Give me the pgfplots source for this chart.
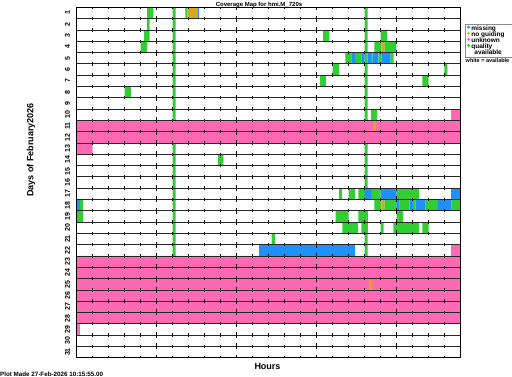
\documentclass[border=0pt]{standalone}
\usepackage{pgfplots}
\pgfplotsset{compat=1.18}
\usepackage{fontspec}
\setmainfont{Liberation Sans}
\definecolor{miss}{RGB}{30,144,255}
\definecolor{noguide}{RGB}{218,165,32}
\definecolor{unknown}{RGB}{255,105,180}
\definecolor{qual}{RGB}{50,205,50}
\pgfplotsset{dotleg/.style={legend image code/.code={\fill (0pt,1.7pt) circle (1.6pt);}}}
\begin{document}
\begin{tikzpicture}[x=1pt,y=1pt]
\useasboundingbox (0,0) rectangle (512,377);
\begin{axis}[
  at={(76.7pt,19.3pt)}, anchor=south west,
  scale only axis, width=384pt, height=350.4pt,
  xmin=0, xmax=24, ymin=0, ymax=31, y dir=reverse,
  xtick=\empty,
  ytick={0.5,1.5,...,30.5},
  yticklabels={1,2,3,4,5,6,7,8,9,10,11,12,13,14,15,16,17,18,19,20,21,22,23,24,25,26,27,28,29,30,31},
  ytick pos=left, major tick length=0pt,
  yticklabel style={xshift=-6.6pt, rotate=90, anchor=south, inner sep=0pt, font=\fontsize{7}{8}\selectfont\bfseries},
  axis line style={black, line width=0.7pt},
  axis on top,
  unbounded coords=jump,
  clip=false,
  legend style={at={(1.0112,0.9532)}, anchor=north west, draw=black!45, line width=0.4pt,
    font=\fontsize{6.5}{7}\selectfont\bfseries, inner xsep=1.8pt, inner ysep=1.7pt,
    row sep=-0.2pt, column sep=1.2pt,
    nodes={inner sep=0pt, text height=4.6pt, text depth=1.3pt}},
  legend cell align=left,
]
% unknown (pink)
\addplot[fill=unknown, draw=none, forget plot] coordinates {
(23.40,9)(24,9)(24,10)(23.40,10)(nan,nan)
(0,10)(24,10)(24,12)(0,12)(nan,nan)
(0,12)(1.00,12)(1.00,13)(0,13)(nan,nan)
(23.40,21)(24,21)(24,22)(23.40,22)(nan,nan)
(0,22)(24,22)(24,28)(0,28)(nan,nan)
(0,28)(0.20,28)(0.20,29)(0,29)
};
% quality (green)
\addplot[fill=qual, draw=none, forget plot] coordinates {
(4.40,0)(4.79,0)(4.79,1)(4.40,1)(nan,nan)
(6.79,0)(6.92,0)(6.92,1)(6.79,1)(nan,nan)
(6.00,0)(6.19,0)(6.19,10)(6.00,10)(nan,nan)
(18.00,0)(18.19,0)(18.19,10)(18.00,10)(nan,nan)
(4.40,1)(4.56,1)(4.56,2)(4.40,2)(nan,nan)
(4.21,2)(4.56,2)(4.56,3)(4.21,3)(nan,nan)
(15.40,2)(15.79,2)(15.79,3)(15.40,3)(nan,nan)
(19.00,2)(19.40,2)(19.40,3)(19.00,3)(nan,nan)
(4.00,3)(4.40,3)(4.40,4)(4.00,4)(nan,nan)
(18.60,3)(19.04,3)(19.04,4)(18.60,4)(nan,nan)
(19.23,3)(19.98,3)(19.98,4)(19.23,4)(nan,nan)
(16.79,4)(17.17,4)(17.17,5)(16.79,5)(nan,nan)
(17.38,4)(17.79,4)(17.79,5)(17.38,5)(nan,nan)
(18.40,4)(18.50,4)(18.50,5)(18.40,5)(nan,nan)
(18.85,4)(19.04,4)(19.04,5)(18.85,5)(nan,nan)
(19.60,4)(19.80,4)(19.80,5)(19.60,5)(nan,nan)
(16.00,5)(16.38,5)(16.38,6)(16.00,6)(nan,nan)
(22.98,5)(23.17,5)(23.17,6)(22.98,6)(nan,nan)
(15.21,6)(15.58,6)(15.58,7)(15.21,7)(nan,nan)
(21.60,6)(22.00,6)(22.00,7)(21.60,7)(nan,nan)
(3.00,7)(3.38,7)(3.38,8)(3.00,8)(nan,nan)
(18.39,9)(18.77,9)(18.77,10)(18.39,10)(nan,nan)
(6.00,12)(6.19,12)(6.19,22)(6.00,22)(nan,nan)
(18.00,12)(18.19,12)(18.19,17)(18.00,17)(nan,nan)
(8.83,13)(9.17,13)(9.17,14)(8.83,14)(nan,nan)
(16.40,16)(16.58,16)(16.58,17)(16.40,17)(nan,nan)
(17.00,16)(17.40,16)(17.40,17)(17.00,17)(nan,nan)
(17.60,16)(18.00,16)(18.00,17)(17.60,17)(nan,nan)
(18.40,16)(19.00,16)(19.00,17)(18.40,17)(nan,nan)
(20.00,16)(21.40,16)(21.40,17)(20.00,17)(nan,nan)
(0.20,17)(0.40,17)(0.40,18)(0.20,18)(nan,nan)
(18.60,17)(19.04,17)(19.04,18)(18.60,18)(nan,nan)
(19.23,17)(19.98,17)(19.98,18)(19.23,18)(nan,nan)
(20.19,17)(20.81,17)(20.81,18)(20.19,18)(nan,nan)
(21.02,17)(21.19,17)(21.19,18)(21.02,18)(nan,nan)
(21.81,17)(22.58,17)(22.58,18)(21.81,18)(nan,nan)
(23.42,17)(24.00,17)(24.00,18)(23.42,18)(nan,nan)
(0.00,18)(0.40,18)(0.40,19)(0.00,19)(nan,nan)
(16.19,18)(17.00,18)(17.00,19)(16.19,19)(nan,nan)
(17.60,18)(18.20,18)(18.20,19)(17.60,19)(nan,nan)
(20.00,18)(20.40,18)(20.40,19)(20.00,19)(nan,nan)
(16.60,19)(17.58,19)(17.58,20)(16.60,20)(nan,nan)
(17.79,19)(18.20,19)(18.20,20)(17.79,20)(nan,nan)
(19.00,19)(19.19,19)(19.19,20)(19.00,20)(nan,nan)
(19.79,19)(21.40,19)(21.40,20)(19.79,20)(nan,nan)
(21.60,19)(22.00,19)(22.00,20)(21.60,20)(nan,nan)
(12.19,20)(12.40,20)(12.40,21)(12.19,21)(nan,nan)
(18.00,20)(18.19,20)(18.19,22)(18.00,22)
};
% missing (blue)
\addplot[fill=miss, draw=none, forget plot] coordinates {
(7.54,0)(7.63,0)(7.63,1)(7.54,1)(nan,nan)
(17.17,4)(17.38,4)(17.38,5)(17.17,5)(nan,nan)
(17.79,4)(18.00,4)(18.00,5)(17.79,5)(nan,nan)
(18.19,4)(18.40,4)(18.40,5)(18.19,5)(nan,nan)
(18.50,4)(18.85,4)(18.85,5)(18.50,5)(nan,nan)
(19.04,4)(19.60,4)(19.60,5)(19.04,5)(nan,nan)
(18.00,16)(18.40,16)(18.40,17)(18.00,17)(nan,nan)
(19.00,16)(20.00,16)(20.00,17)(19.00,17)(nan,nan)
(23.40,16)(24.00,16)(24.00,17)(23.40,17)(nan,nan)
(0.00,17)(0.20,17)(0.20,18)(0.00,18)(nan,nan)
(19.98,17)(20.19,17)(20.19,18)(19.98,18)(nan,nan)
(20.81,17)(21.02,17)(21.02,18)(20.81,18)(nan,nan)
(21.19,17)(21.81,17)(21.81,18)(21.19,18)(nan,nan)
(22.58,17)(23.42,17)(23.42,18)(22.58,18)(nan,nan)
(11.40,21)(17.40,21)(17.40,22)(11.40,22)
};
% no guiding (orange)
\addplot[fill=noguide, draw=none, forget plot] coordinates {
(6.92,0)(7.54,0)(7.54,1)(6.92,1)(nan,nan)
(19.04,3)(19.23,3)(19.23,4)(19.04,4)(nan,nan)
(18.52,10)(18.71,10)(18.71,11)(18.52,11)(nan,nan)
(19.04,17)(19.23,17)(19.23,18)(19.04,18)(nan,nan)
(18.27,24)(18.48,24)(18.48,25)(18.27,25)
};
% row strips: tick marks and separating lines
\pgfplotsinvokeforeach{0,...,30}{
  \draw[black, line width=0.5pt] foreach \h in {1,2,3,4,6,7,8,9,11,12,13,14,16,17,18,19,21,22,23} {(axis cs:\h,#1) -- ++(0,-1.7pt)};
  \draw[black, line width=0.6pt] foreach \h in {5,10,15,20} {(axis cs:\h,#1) -- ++(0,-3pt)};
}
\pgfplotsinvokeforeach{1,...,31}{
  \draw[black, line width=0.5pt] foreach \h in {1,2,3,4,6,7,8,9,11,12,13,14,16,17,18,19,21,22,23} {(axis cs:\h,#1) -- ++(0,1.7pt)};
  \draw[black, line width=0.6pt] foreach \h in {5,10,15,20} {(axis cs:\h,#1) -- ++(0,3pt)};
}
\pgfplotsinvokeforeach{0,...,31}{
  \draw[black!85, line width=0.75pt] (axis cs:0,#1) -- (axis cs:24,#1);
}
\addlegendimage{dotleg, fill=miss, draw=none}
\addlegendimage{dotleg, fill=noguide, draw=none}
\addlegendimage{dotleg, fill=unknown, draw=none}
\addlegendimage{dotleg, fill=qual, draw=none}
\addlegendimage{empty legend}
\legend{missing,\makebox[39pt][l]{no guiding},unknown,quality,\hspace{3pt}available}
\end{axis}
\node[font=\fontsize{6}{7}\selectfont\bfseries] at (259,372.5) {Coverage Map for hmi.M\_720s};
\node[font=\fontsize{9}{10}\selectfont\bfseries, rotate=90] at (31,227) {Days of February2026};
\node[font=\fontsize{9}{10}\selectfont\bfseries] at (267.5,11) {Hours};
\node[font=\fontsize{6.25}{7}\selectfont\bfseries, anchor=base west, inner sep=0pt] at (0,0.8) {Plot Made 27-Feb-2026 10:15:55.00};
\node[font=\fontsize{5.5}{6}\selectfont\bfseries] at (487.5,316) {white = available};
\end{tikzpicture}
\end{document}
